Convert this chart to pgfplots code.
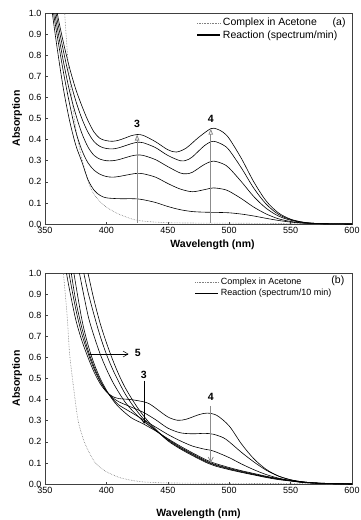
\documentclass[border=0pt]{standalone}
\usepackage{fontspec}
\setmainfont{Liberation Sans}
\usepackage{pgfplots}
\pgfplotsset{compat=1.18}
\usetikzlibrary{arrows.meta}
\definecolor{axgray}{gray}{0.25}
\definecolor{arrgray}{gray}{0.55}
\pgfplotsset{
  specaxis/.style={
    scale only axis, width=307pt, height=211pt,
    xmin=350, xmax=600, ymin=0, ymax=1,
    xtick={350,400,...,600}, ytick={0,0.1,...,1.0},
    tick align=inside, xtick pos=bottom, ytick pos=left,
    major tick length=2.5pt, tick style={axgray, line width=0.5pt},
    axis line style={axgray, line width=0.8pt},
    /pgf/number format/assume math mode=true,
    yticklabel style={/pgf/number format/.cd, fixed, fixed zerofill, precision=1},
    xticklabel style={/pgf/number format/.cd, fixed, precision=0, 1000 sep={}},
    ticklabel style={font=\fontsize{9}{10}\selectfont},
    label style={font=\fontsize{10.5}{12}\selectfont\bfseries},
    ylabel={Absorption}, xlabel={Wavelength (nm)},
    legend cell align=left,
    legend image code/.code={\draw[#1] (0pt,0pt) -- (23pt,0pt);},
    every axis plot/.append style={smooth, tension=0.5},
  },
  rxn/.style={black, line width=0.6pt, forget plot},
  cpx/.style={gray, densely dotted, line width=0.6pt, forget plot},
}
\begin{document}
\begin{tikzpicture}
\useasboundingbox (-45pt,-296pt) rectangle (315pt,224pt);
% ---------------- (a)
\begin{axis}[specaxis, at={(0pt,0pt)}, anchor=south west,
  xlabel style={xshift=14pt, yshift=1pt},
  legend style={at={(0.49,0.99)}, anchor=north west, draw=none, fill=none,
    font=\fontsize{10.5}{12}\selectfont, inner sep=1pt, row sep=-1pt}]
\addlegendimage{gray, densely dotted, line width=0.6pt}
\addlegendentry{Complex in Acetone}
\addlegendimage{black, line width=1.3pt}
\addlegendentry{Reaction (spectrum/min)}
\addplot[cpx] coordinates {(365,1.1) (366,1.0) (368,0.83) (370,0.69) (373,0.54) (376,0.42) (380,0.31) (383,0.245) (386.5,0.18) (390,0.14) (395,0.105) (400,0.08) (410,0.047) (424,0.019) (440,0.009) (460,0.005) (500,0.004) (550,0.002) (600,0.001)};
\addplot[rxn] coordinates {(359,1.08) (360,1.0) (365,0.86) (370,0.74) (375,0.64) (380,0.56) (385,0.49) (390,0.435) (395,0.405) (400,0.395) (405,0.392) (410,0.397) (415,0.407) (420,0.418) (425,0.424) (430,0.42) (440,0.39) (450,0.352) (457,0.341) (465,0.36) (475,0.41) (485,0.452) (490,0.45) (495,0.435) (500,0.405) (510,0.31) (520,0.20) (530,0.11) (540,0.053) (550,0.023) (560,0.009) (570,0.003) (580,0.001) (600,0)};
\addplot[rxn] coordinates {(358,1.08) (359,1.0) (365,0.82) (370,0.69) (375,0.585) (380,0.50) (385,0.435) (390,0.39) (395,0.367) (400,0.358) (405,0.356) (410,0.361) (420,0.38) (425,0.387) (430,0.385) (440,0.362) (450,0.325) (460,0.30) (465,0.302) (470,0.318) (480,0.372) (487,0.392) (495,0.375) (500,0.35) (510,0.265) (520,0.17) (530,0.095) (540,0.046) (550,0.021) (560,0.008) (570,0.003) (580,0.001) (600,0)};
\addplot[rxn] coordinates {(357,1.08) (358,1.0) (360,0.93) (365,0.77) (370,0.63) (375,0.52) (380,0.43) (385,0.365) (390,0.325) (395,0.307) (400,0.30) (405,0.30) (410,0.305) (420,0.322) (425,0.327) (430,0.325) (440,0.305) (450,0.272) (460,0.242) (465,0.238) (470,0.245) (480,0.283) (487,0.298) (495,0.285) (500,0.265) (510,0.20) (520,0.13) (530,0.075) (540,0.038) (550,0.018) (560,0.007) (570,0.003) (580,0.001) (600,0)};
\addplot[rxn] coordinates {(356,1.08) (357,1.0) (360,0.89) (365,0.72) (370,0.57) (375,0.44) (380,0.35) (385,0.29) (390,0.255) (395,0.235) (400,0.225) (405,0.222) (410,0.225) (420,0.236) (425,0.24) (430,0.238) (440,0.222) (450,0.192) (460,0.166) (470,0.153) (480,0.163) (487,0.171) (495,0.165) (500,0.155) (510,0.12) (520,0.08) (530,0.048) (540,0.025) (550,0.012) (560,0.005) (570,0.002) (580,0.001) (600,0)};
\addplot[rxn] coordinates {(355,1.08) (356,1.0) (360,0.83) (365,0.64) (370,0.49) (375,0.375) (380,0.295) (385,0.21) (390,0.16) (395,0.135) (400,0.124) (410,0.12) (420,0.12) (425,0.119) (430,0.115) (440,0.102) (450,0.083) (460,0.068) (470,0.059) (480,0.056) (490,0.055) (500,0.053) (510,0.047) (520,0.038) (530,0.027) (540,0.017) (550,0.009) (560,0.004) (570,0.002) (580,0.001) (600,0)};
\draw[arrgray, line width=0.8pt, -{Triangle[open, length=6pt, width=4.5pt]}] (axis cs:425,0.005) -- (axis cs:425,0.424);
\draw[arrgray, line width=0.8pt, -{Triangle[open, length=6pt, width=4.5pt]}] (axis cs:485,0.005) -- (axis cs:485,0.452);
\node[font=\fontsize{10.5}{12}\selectfont\bfseries] at (axis cs:425,0.475) {3};
\node[font=\fontsize{10.5}{12}\selectfont\bfseries] at (axis cs:485,0.5) {4};
\node[font=\fontsize{10.5}{12}\selectfont] at (rel axis cs:0.958,0.952) {(a)};
\end{axis}
% ---------------- (b)
\begin{axis}[specaxis, at={(0pt,-260pt)}, anchor=south west,
  xlabel style={yshift=-8pt},
  legend style={at={(0.485,0.99)}, anchor=north west, draw=none, fill=none,
    font=\fontsize{9}{10}\selectfont, inner sep=1pt, row sep=-1pt}]
\addlegendimage{gray, densely dotted, line width=0.6pt}
\addlegendentry{Complex in Acetone}
\addlegendimage{black, line width=0.8pt}
\addlegendentry{Reaction (spectrum/10 min)}
\addplot[cpx] coordinates {(364,1.1) (365,1.0) (368,0.8) (370,0.62) (373,0.47) (377,0.30) (382,0.2) (387,0.138) (391,0.1) (395,0.078) (400,0.058) (410,0.032) (420,0.018) (430,0.01) (440,0.007) (450,0.005) (500,0.003) (550,0.002) (600,0.001)};
\addplot[rxn] coordinates {(366.5,1.05) (367.5,1.0) (370,0.92) (375,0.78) (380,0.68) (385,0.60) (390,0.53) (395,0.475) (400,0.437) (405,0.415) (410,0.405) (420,0.40) (430,0.39) (435,0.38) (440,0.36) (450,0.318) (458,0.302) (465,0.307) (475,0.328) (482,0.336) (490,0.325) (500,0.275) (510,0.19) (520,0.12) (530,0.07) (540,0.038) (550,0.02) (560,0.01) (570,0.005) (580,0.002) (600,0)};
\addplot[rxn] coordinates {(368.5,1.05) (369.5,1.0) (375,0.83) (380,0.71) (385,0.62) (390,0.545) (395,0.485) (400,0.44) (405,0.41) (410,0.39) (420,0.365) (430,0.34) (440,0.305) (450,0.265) (460,0.243) (470,0.238) (480,0.24) (487,0.236) (495,0.22) (500,0.2) (510,0.15) (520,0.105) (530,0.066) (540,0.038) (550,0.02) (560,0.01) (570,0.005) (580,0.002) (600,0)};
\addplot[rxn] coordinates {(370.4,1.05) (371.4,1.0) (375,0.87) (380,0.74) (385,0.635) (390,0.555) (395,0.49) (400,0.44) (405,0.405) (410,0.375) (420,0.34) (430,0.305) (440,0.27) (450,0.235) (460,0.205) (470,0.18) (480,0.165) (485,0.16) (490,0.15) (500,0.125) (510,0.095) (520,0.068) (530,0.045) (540,0.028) (550,0.016) (560,0.008) (570,0.004) (580,0.002) (600,0)};
\addplot[rxn] coordinates {(372.3,1.05) (373.5,1.0) (380,0.78) (385,0.66) (390,0.57) (395,0.50) (400,0.445) (405,0.40) (410,0.365) (420,0.315) (430,0.285) (440,0.252) (450,0.215) (460,0.18) (470,0.148) (480,0.118) (485,0.105) (490,0.095) (500,0.078) (510,0.063) (520,0.05) (530,0.037) (540,0.026) (550,0.017) (560,0.01) (570,0.005) (580,0.003) (600,0)};
\addplot[rxn] coordinates {(376.5,1.05) (378,1.0) (385,0.80) (390,0.70) (395,0.615) (400,0.545) (405,0.485) (410,0.435) (415,0.39) (420,0.355) (425,0.325) (430,0.298) (440,0.255) (450,0.212) (460,0.175) (470,0.143) (480,0.113) (485,0.1) (490,0.09) (500,0.074) (510,0.06) (520,0.047) (530,0.035) (540,0.024) (550,0.016) (560,0.009) (570,0.005) (580,0.003) (600,0)};
\addplot[rxn] coordinates {(380,1.05) (381.6,1.0) (385,0.91) (390,0.80) (395,0.70) (400,0.615) (405,0.545) (410,0.485) (415,0.43) (420,0.385) (425,0.345) (430,0.31) (435,0.28) (440,0.255) (450,0.208) (460,0.171) (470,0.139) (480,0.109) (485,0.097) (490,0.087) (500,0.071) (510,0.057) (520,0.045) (530,0.033) (540,0.023) (550,0.015) (560,0.008) (570,0.004) (580,0.002) (600,0)};
\addplot[rxn] coordinates {(383.3,1.05) (385,1.0) (390,0.87) (395,0.76) (400,0.67) (405,0.59) (410,0.52) (415,0.46) (420,0.41) (425,0.365) (430,0.325) (435,0.29) (440,0.26) (450,0.205) (460,0.167) (470,0.135) (480,0.105) (485,0.093) (490,0.083) (500,0.068) (510,0.055) (520,0.043) (530,0.031) (540,0.021) (550,0.014) (560,0.007) (570,0.004) (580,0.002) (600,0)};
\draw[black, line width=0.5pt, -{Straight Barb[open, length=4pt, width=5pt]}] (axis cs:430.7,0.49) -- (axis cs:430.7,0.285);
\draw[arrgray, line width=0.8pt, -{Straight Barb[open, length=5pt, width=5pt]}] (axis cs:485,0.37) -- (axis cs:485,0.1);
\draw[black, line width=0.5pt, -{Straight Barb[length=5pt, width=6pt]}] (axis cs:385.5,0.616) -- (axis cs:418,0.616);
\node[font=\fontsize{10.5}{12}\selectfont\bfseries] at (axis cs:430.5,0.515) {3};
\node[font=\fontsize{10.5}{12}\selectfont\bfseries] at (axis cs:485,0.415) {4};
\node[font=\fontsize{10.5}{12}\selectfont\bfseries] at (axis cs:425.5,0.62) {5};
\node[font=\fontsize{10.5}{12}\selectfont] at (rel axis cs:0.954,0.962) {(b)};
\end{axis}
\end{tikzpicture}
\end{document}
